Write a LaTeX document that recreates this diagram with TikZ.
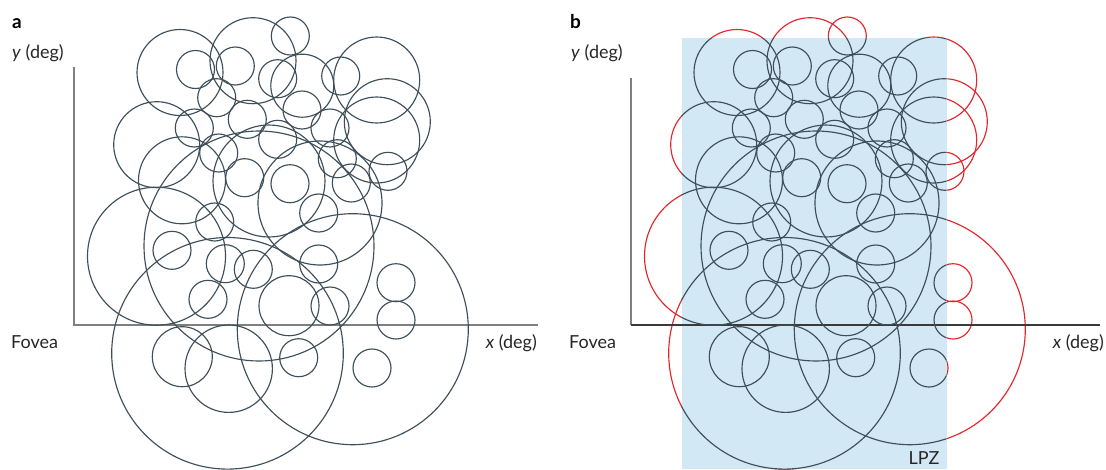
\documentclass[tikz,border=0pt]{standalone}
\usepackage{fontspec}
\setmainfont{Lato}
\definecolor{circ}{HTML}{3E4F5A}
\definecolor{axisgray}{HTML}{7F7F7F}
\definecolor{axisdark}{HTML}{3A3A3A}
\definecolor{lpzblue}{HTML}{D2E8F4}
\definecolor{rfred}{HTML}{E3262B}
\newcommand\rfcircles[1]{%
  \foreach \cx/\cy/\cr in {
    180/72.5/43, 195.5/69.5/19, 235.3/66/19, 253/60.7/43, 290.3/36/19,
    277.7/78.7/19, 302.3/85.7/31.5, 340.7/76/19, 376.7/80/43, 216.7/97.7/19,
    247.3/119.3/19, 302/110/19, 330/128/19, 387.3/121.7/43, 376.7/140/43,
    156.7/144.7/43, 194.3/128/19, 218.7/153/19, 277.7/139.3/19, 182/180.3/43.5,
    244.7/177.7/19, 290/183.7/19, 337.3/158.7/19, 351.3/183/19, 388/171.3/19,
    318.7/213/19, 214.7/222/19, 259/246/115, 269/181/56, 320/203/62,
    352.8/329.2/115.5, 227.5/353.3/115.8, 156.5/256.2/69, 172/250.3/19,
    225.3/263.7/19, 253.3/269.3/19, 208/299.3/19, 289/305.7/30, 330/306/19,
    318.7/264/19, 396/282.7/19, 396/320/19, 182.3/356.7/30, 228.7/368.7/43.7,
    298.7/357.7/19, 372/368/19}
  {\draw[#1] (\cx,\cy) circle[radius=\cr pt];}%
}
\tikzset{
  rf/.style={draw=circ, line width=1.15pt},
  rfout/.style={draw=rfred, line width=1.15pt},
  lbl/.style={font=\fontsize{18}{21}\selectfont, text=black!85, inner sep=0pt},
  plbl/.style={font=\fontsize{19}{22}\selectfont\bfseries, inner sep=0pt},
  axa/.style={draw=axisgray, line width=1.2pt},
  axb/.style={draw=axisdark, line width=1.2pt}
}
\begin{document}
\begin{tikzpicture}[x=1pt, y=-1pt]
\useasboundingbox (0,0) rectangle (1106,469);
% ---------- panel a ----------
\node[plbl, anchor=base west] (la) at (12,28) {a};
\node[lbl, anchor=base west] (ya) at (12,58) {\textit{y} (deg)};
\node[lbl, anchor=base west] (fa) at (11,348) {Fovea};
\node[lbl, anchor=base east] (xa) at (537,348) {\textit{x} (deg)};
\coordinate (oa) at (74,325);
\coordinate (ta) at (74,67);
\coordinate (ra) at (538,325);
\draw[axa] (ta) -- (oa) -- (ra);
\rfcircles{rf}
% ---------- panel b ----------
\node[plbl, anchor=base west] (lb) at (570,28) {b};
\node[lbl, anchor=base west] (yb) at (571,58) {\textit{y} (deg)};
\node[lbl, anchor=base west] (fb) at (569,348) {Fovea};
\node[lbl, anchor=base east] (xb) at (1104,348) {\textit{x} (deg)};
\begin{scope}[xshift=557pt]
  \rfcircles{rfout}
  \fill[lpzblue] (124.7,38) rectangle (389.7,469);
\end{scope}
\coordinate (ob) at (631,325);
\coordinate (tb) at (631,78);
\coordinate (rb) at (1100,325);
\draw[axisgray, line width=1.2pt] (tb) -- (ob);
\draw[axb] (ob) -- (rb);
\begin{scope}[xshift=557pt]
  \clip (124.7,38) rectangle (389.7,469);
  \rfcircles{rf}
\end{scope}
\node[lbl, anchor=base] (lpz) at (924,464) {LPZ};
\end{tikzpicture}
\end{document}
